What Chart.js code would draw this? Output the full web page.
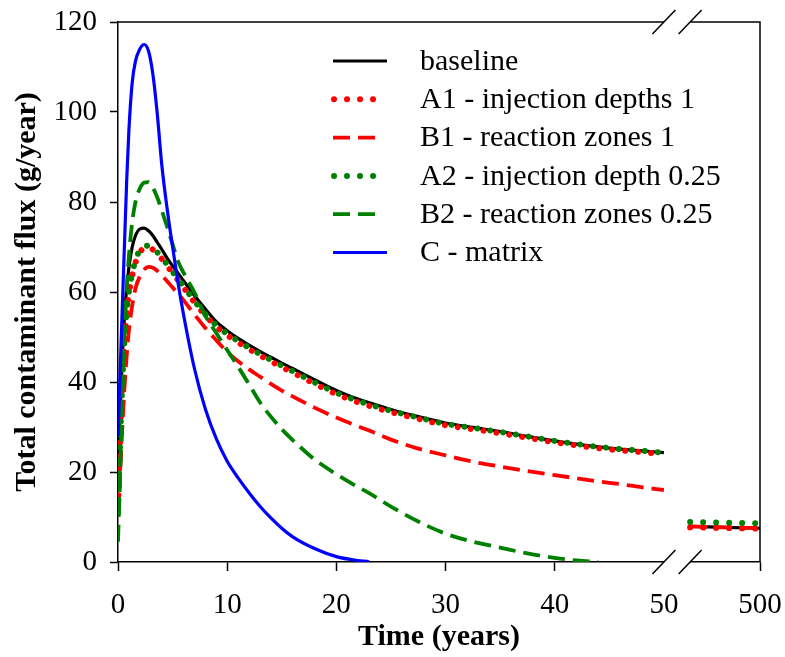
<!DOCTYPE html>
<html><head><meta charset="utf-8">
<script src="https://cdn.jsdelivr.net/npm/chart.js@4.4.1/dist/chart.umd.min.js"></script>
<style>html,body{margin:0;padding:0;background:#fff;overflow:hidden}</style>
</head><body>
<canvas id="c" width="785" height="657"></canvas>
<script>
// ---- data (x axis is compressed: 0..50 years linear, then a break, "500" at the right end) ----
const time = [0, 0.2, 0.4, 0.6, 0.8, 1, 1.3, 1.6, 2, 2.4, 2.8, 3.2, 3.6, 4, 4.5, 5, 5.5, 6, 7, 8, 9, 10, 11, 12, 13, 14, 15, 16, 18, 20, 21.5, 23, 25, 27.5, 30, 32.5, 35, 37.5, 40, 42, 44, 46, 48, 50];
const baseline = [22.7, 35, 46, 55, 61, 65.5, 70, 72.5, 74, 74.2, 73.6, 72.5, 71, 69.5, 67.5, 65.8, 64.2, 62.5, 59.2, 56.2, 53.4, 51.4, 49.7, 48.2, 46.8, 45.5, 44.2, 43.0, 40.5, 38.1, 36.6, 35.4, 33.9, 32.3, 30.9, 29.9, 29.0, 27.9, 26.9, 26.2, 25.6, 25.1, 24.7, 24.3];
const a1 = [12, 28, 40, 49, 55.5, 59.5, 63.5, 66.5, 68.8, 69.8, 70, 69.4, 68.5, 67.4, 65.8, 64.2, 62.6, 61.0, 57.7, 54.8, 52.3, 50.4, 48.8, 47.3, 45.9, 44.6, 43.3, 42.1, 39.6, 37.3, 35.9, 34.7, 33.3, 31.8, 30.4, 29.5, 28.6, 27.6, 26.6, 25.9, 25.3, 24.8, 24.4, 24.0];
const b1 = [10, 20, 30, 39, 46, 51.5, 57, 60.8, 63.5, 65, 65.6, 65.4, 64.7, 63.7, 62.4, 61.0, 59.6, 58.2, 55.0, 52.0, 49.3, 46.7, 44.6, 42.8, 41.2, 39.6, 38.1, 36.8, 34.3, 32.1, 30.6, 29.2, 27.2, 25.2, 23.7, 22.3, 21.2, 20.2, 19.3, 18.6, 17.9, 17.3, 16.6, 16.0];
const a2 = [11, 27, 40, 49.5, 56, 60, 64, 67, 69.3, 70.2, 70.3, 69.7, 68.8, 67.7, 66.1, 64.5, 62.9, 61.3, 58.0, 55.1, 52.6, 50.7, 49.1, 47.6, 46.2, 44.9, 43.6, 42.4, 39.9, 37.6, 36.2, 35.0, 33.6, 32.1, 30.7, 29.8, 28.9, 27.9, 26.9, 26.2, 25.6, 25.1, 24.7, 24.3];
const b2 = [4.5, 20, 37, 51, 61, 68, 75.5, 80, 83, 84.3, 84.4, 83.2, 81, 78.2, 74.5, 70.6, 66.8, 64.3, 59.9, 54.7, 50.9, 47.1, 43.4, 39.5, 35.5, 32.3, 29.5, 27.1, 22.8, 19.5, 17.3, 15.3, 12.3, 9.0, 6.3, 4.5, 3.2, 1.9, 0.9, 0.35, 0.05, null, null, null];
const cMatrix = [28, 42.5, 57, 71, 85, 96, 106.5, 111.3, 114, 115, 113.5, 108.3, 99.5, 88.5, 78.5, 70, 62, 55, 43, 34, 27.4, 22.4, 18.7, 15.4, 12.4, 9.8, 7.5, 5.6, 3.0, 1.2, 0.5, 0.05, null, null, null, null, null, null, null, null, null, null, null, null];
// segment after the axis break (positions on the compressed axis)
const lateTime = [52.4, 58.8];
const baselineLate = [7.9, 7.5];
const a1Late = [7.7, 7.4];
const b1Late = [7.9, 7.5];
const a2Late = [8.9, 8.6];
// axis
const breakFrom = 50, breakTo = 52.4, xMax = 58.8;
const xTickValues = [0, 10, 20, 30, 40, 50, 58.8];
const xTickLabels = ['0', '10', '20', '30', '40', '50', '500'];
const yMin = 0, yMax = 120, yStep = 20;
const labels = ['baseline', 'A1 - injection depths 1', 'B1 - reaction zones 1', 'A2 - injection depth 0.25', 'B2 - reaction zones 0.25', 'C - matrix'];

function pts(vals, late) {
  const d = [];
  time.forEach((t, i) => { if (vals[i] !== null) d.push({x: t, y: vals[i]}); });
  if (late) {
    d.push({x: (breakFrom + breakTo) / 2, y: null});
    lateTime.forEach((t, i) => d.push({x: t, y: late[i]}));
  }
  return d;
}

const FONT = 'Liberation Serif';
const DOT = [0.01, 13], DASH = [17, 8];

const datasets = [
  {label: labels[0], data: pts(baseline, baselineLate), borderColor: '#000000', borderWidth: 3.2, borderDash: [], borderCapStyle: 'butt', order: 6, legendLen: 54},
  {label: labels[1], data: pts(a1, a1Late), borderColor: '#ff0000', borderWidth: 6, borderDash: DOT, borderCapStyle: 'round', order: 4, legendLen: 40},
  {label: labels[2], data: pts(b1, b1Late), borderColor: '#ff0000', borderWidth: 3.8, borderDash: DASH, borderCapStyle: 'butt', order: 5, legendLen: 45},
  {label: labels[3], data: pts(a2, a2Late), borderColor: '#008000', borderWidth: 6, borderDash: DOT, borderCapStyle: 'round', order: 2, legendLen: 40},
  {label: labels[4], data: pts(b2, null), borderColor: '#008000', borderWidth: 3.8, borderDash: DASH, borderCapStyle: 'butt', order: 3, legendLen: 45},
  {label: labels[5], data: pts(cMatrix, null), borderColor: '#0000ff', borderWidth: 3.2, borderDash: [], borderCapStyle: 'butt', order: 1, legendLen: 54}
].map(d => Object.assign(d, {pointRadius: 0, fill: false, cubicInterpolationMode: 'monotone', spanGaps: false}));

const framePlugin = {
  id: 'frameBreak',
  afterDraw(chart) {
    const ctx = chart.ctx, ca = chart.chartArea, xs = chart.scales.x;
    ctx.save();
    ctx.strokeStyle = '#000'; ctx.lineWidth = 1.5; ctx.setLineDash([]);
    ctx.beginPath();
    ctx.moveTo(ca.left, ca.top); ctx.lineTo(ca.right, ca.top); ctx.lineTo(ca.right, ca.bottom);
    ctx.stroke();
    const g1 = xs.getPixelForValue(breakFrom), g2 = xs.getPixelForValue(breakTo);
    ctx.fillStyle = '#fff';
    [ca.top, ca.bottom].forEach(y => ctx.fillRect(g1, y - 2, g2 - g1, 4));
    [ca.top, ca.bottom].forEach(y => {
      [g1, g2].forEach(x => {
        ctx.beginPath(); ctx.moveTo(x - 11.5, y + 12); ctx.lineTo(x + 11.5, y - 12); ctx.stroke();
      });
    });
    ctx.restore();
  }
};

const legendPlugin = {
  id: 'insideLegend',
  afterDraw(chart) {
    const ctx = chart.ctx;
    const x0 = 333, textX = 420, top = 61, step = 38.3;
    ctx.save();
    chart.data.datasets.forEach((ds, i) => {
      const y = top + i * step;
      ctx.strokeStyle = ds.borderColor; ctx.lineWidth = ds.borderWidth;
      ctx.setLineDash(ds.borderDash); ctx.lineCap = ds.borderCapStyle;
      const sx = ds.borderCapStyle === 'round' ? x0 + 1 : x0;
      ctx.beginPath(); ctx.moveTo(sx, y); ctx.lineTo(sx + ds.legendLen, y); ctx.stroke();
      ctx.setLineDash([]);
      ctx.fillStyle = '#000'; ctx.font = '30px "' + FONT + '"';
      ctx.textAlign = 'left'; ctx.textBaseline = 'middle';
      ctx.fillText(ds.label, textX, y + 1);
    });
    ctx.restore();
  }
};

new Chart(document.getElementById('c'), {
  type: 'line',
  data: {datasets},
  plugins: [framePlugin, legendPlugin],
  options: {
    responsive: false, animation: false, devicePixelRatio: 1,
    layout: {padding: {top: 22, right: 25, left: 0, bottom: 0}},
    plugins: {legend: {display: false}, tooltip: {enabled: false}},
    scales: {
      x: {
        type: 'linear', min: 0, max: xMax,
        afterBuildTicks: s => { s.ticks = xTickValues.map(v => ({value: v})); },
        afterFit: s => { s.height = 95; s.paddingLeft = 0; s.paddingRight = 0; },
        ticks: {autoSkip: false, maxRotation: 0, padding: 17, color: '#000', font: {family: FONT, size: 29},
          callback: (v, i) => xTickLabels[i]},
        grid: {drawOnChartArea: false, tickLength: 9, tickWidth: 1.5,
          tickColor: c => (c.tick && c.tick.value === breakFrom) ? 'rgba(0,0,0,0)' : '#000'},
        border: {color: '#000', width: 1.5},
        title: {display: true, text: 'Time (years)', color: '#000', font: {family: FONT, size: 30, weight: 'bold'}, padding: {top: 0, bottom: 2}}
      },
      y: {
        min: yMin, max: yMax,
        afterFit: s => { s.width = 118; s.paddingTop = 0; s.paddingBottom = 0; },
        ticks: {stepSize: yStep, padding: 13, color: '#000', font: {family: FONT, size: 29}},
        grid: {drawOnChartArea: false, tickLength: 8, tickWidth: 1.5, tickColor: '#000'},
        border: {color: '#000', width: 1.5},
        title: {display: true, text: 'Total contaminant flux (g/year)', color: '#000', font: {family: FONT, size: 30, weight: 'bold'}, padding: {top: 9, bottom: 0}}
      }
    }
  }
});
</script>
</body></html>
